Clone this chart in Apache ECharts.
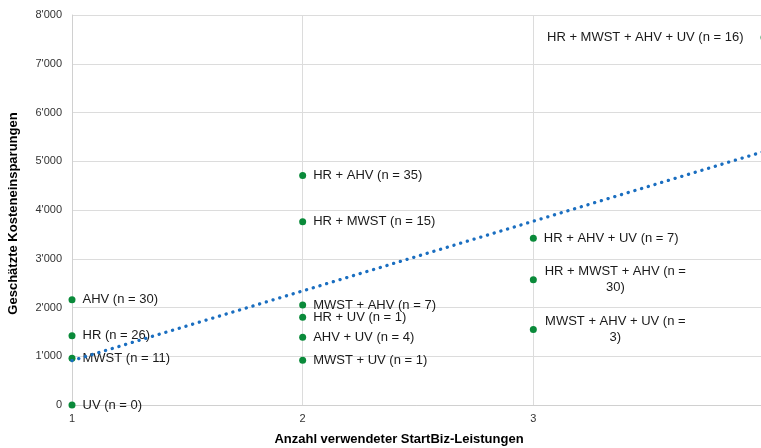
<!DOCTYPE html>
<html>
<head>
<meta charset="utf-8">
<script src="https://cdn.jsdelivr.net/npm/echarts@6/dist/echarts.min.js"></script>
<style>
  html, body { margin: 0; padding: 0; background: #ffffff; overflow: hidden; }
  #chart { width: 761px; height: 448px; }
</style>
</head>
<body>
<div id="chart"></div>
<script>
// Number of StartBiz services used per combination
const serviceCounts = [1, 1, 1, 1, 2, 2, 2, 2, 2, 2, 3, 3, 3, 4];
// Estimated cost savings per combination
const savings = [2160, 1420, 960, 0, 4710, 3760, 2050, 1800, 1390, 920, 3420, 2570, 1550, 7540];
// Combination names with group sizes
const combos = [
  'AHV (n = 30)', 'HR (n = 26)', 'MWST (n = 11)', 'UV (n = 0)',
  'HR + AHV (n = 35)', 'HR + MWST (n = 15)', 'MWST + AHV (n = 7)', 'HR + UV (n = 1)',
  'AHV + UV (n = 4)', 'MWST + UV (n = 1)',
  'HR + AHV + UV (n = 7)', 'HR + MWST + AHV (n =\n30)', 'MWST + AHV + UV (n =\n3)',
  'HR + MWST + AHV + UV (n = 16)'
];
// Linear trend line end points
const trendX = [1, 4];
const trendY = [910, 5200];

const yTicks = [0, 1000, 2000, 3000, 4000, 5000, 6000, 7000, 8000];

const FONT = 'Liberation Sans, Arial, sans-serif';

function labelFor(name) {
  if (name.indexOf('UV (n = 16)') >= 0) {
    return { position: 'left', distance: 17 };
  }
  return { position: 'right', distance: 7 };
}

// wrapped names are drawn as centred lines of a fixed-width block
function formatName(name) {
  if (name.indexOf('\n') < 0) return name;
  return name.split('\n').map(s => '{c|' + s + '}').join('\n');
}

const points = serviceCounts.map((x, i) => ({
  value: [x, savings[i]],
  name: combos[i],
  label: labelFor(combos[i])
}));

const chart = echarts.init(document.getElementById('chart'), null, { renderer: 'canvas' });
chart.setOption({
  animation: false,
  backgroundColor: '#ffffff',
  grid: { left: 72, right: -3, top: 15, bottom: 43, containLabel: false, outerBoundsMode: 'none' },
  xAxis: {
    type: 'value', min: 1, max: 4, interval: 1,
    name: 'Anzahl verwendeter StartBiz-Leistungen',
    nameLocation: 'middle', nameGap: 28,
    nameTextStyle: { fontFamily: FONT, fontSize: 13, fontWeight: 'bold', color: '#000000', padding: [0, 38, 0, 0] },
    axisLine: { show: true, lineStyle: { color: '#d0d0d0', width: 1 } },
    axisTick: { show: false },
    axisLabel: { fontFamily: FONT, fontSize: 11, color: '#333333', margin: 8 },
    splitLine: { show: true, lineStyle: { color: '#dcdcdc', width: 1 } }
  },
  yAxis: {
    type: 'value', min: 0, max: 8000, interval: 1000,
    name: 'Geschätzte Kosteneinsparungen',
    nameLocation: 'middle', nameGap: 52, nameRotate: 90,
    nameTextStyle: { fontFamily: FONT, fontSize: 13, fontWeight: 'bold', color: '#000000', padding: [0, 7, 0, 0] },
    axisLine: { show: true, lineStyle: { color: '#d0d0d0', width: 1 } },
    axisTick: { show: false },
    axisLabel: {
      fontFamily: FONT, fontSize: 11, color: '#333333', margin: 10,
      formatter: v => yTicks.indexOf(v) >= 0 ? String(v).replace(/\B(?=(\d{3})+(?!\d))/g, "'") : ''
    },
    splitLine: { show: true, lineStyle: { color: '#dcdcdc', width: 1 } }
  },
  series: [
    {
      type: 'scatter',
      data: points,
      symbol: 'circle',
      symbolSize: 7,
      itemStyle: { color: '#0A8A3A', opacity: 1 },
      label: {
        show: true,
        formatter: p => formatName(p.name),
        fontFamily: FONT, fontSize: 13, color: '#1a1a1a', opacity: 1,
        lineHeight: 16,
        rich: {
          c: { fontFamily: FONT, fontSize: 13, color: '#1a1a1a', width: 143, align: 'center', lineHeight: 16 }
        }
      },
      emphasis: { disabled: true },
      labelLayout: { hideOverlap: false },
      z: 2
    },
    {
      type: 'line',
      data: trendX.map((x, i) => [x, trendY[i]]),
      symbol: 'none',
      lineStyle: { color: '#1A6EC0', width: 3.3, type: [0.1, 6.9], cap: 'round' },
      z: 5
    }
  ]
});
</script>
</body>
</html>
